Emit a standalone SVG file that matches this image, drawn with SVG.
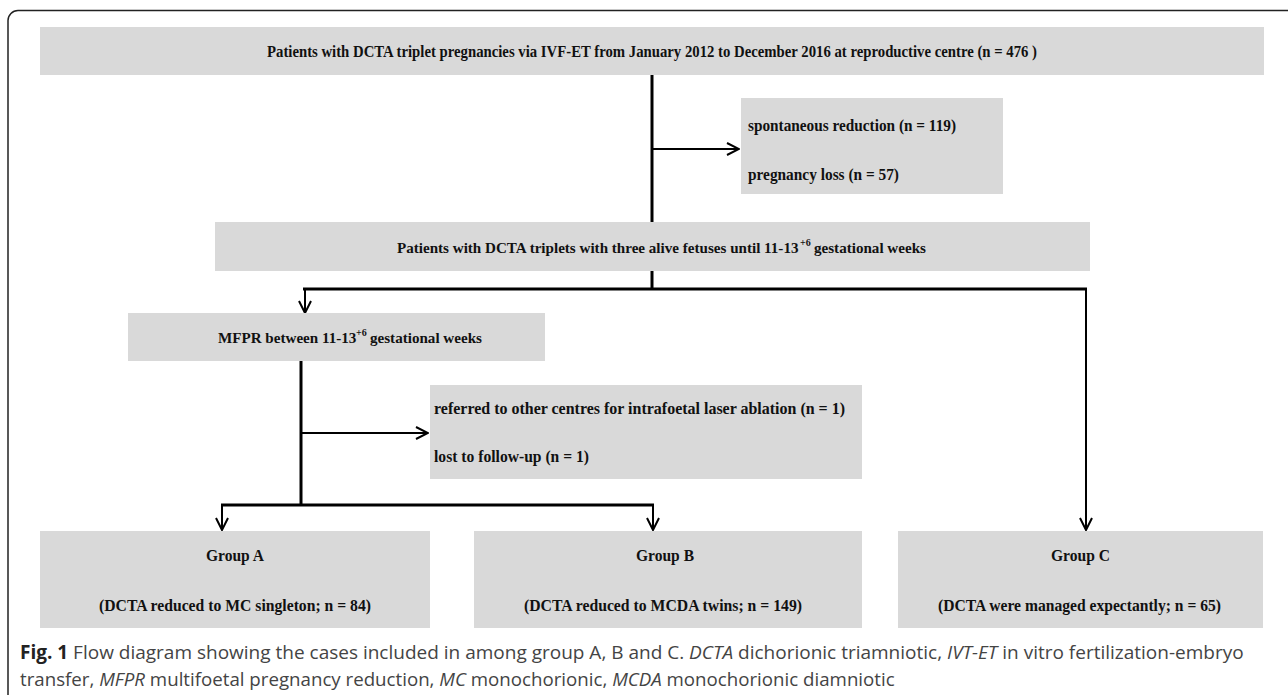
<svg xmlns="http://www.w3.org/2000/svg" width="1288" height="695" viewBox="0 0 1288 695">
<defs>
<style>
.box{fill:#d9d9d9;}
.t{font-family:"Liberation Serif","Times New Roman",serif;font-weight:bold;font-size:17px;fill:#111;}
.t2{font-family:"Liberation Serif","Times New Roman",serif;font-weight:bold;font-size:15.1px;fill:#111;}
.sup{font-family:"Liberation Serif","Times New Roman",serif;font-weight:bold;font-size:10px;fill:#111;}
.thick{stroke:#000;stroke-width:3;fill:none;}
.thin{stroke:#000;stroke-width:2;fill:none;}
.cap{font-family:"Open Sans","Liberation Sans",sans-serif;font-size:19px;fill:#444;}
.cap2{font-size:18.7px;}
.capb{font-weight:bold;fill:#222;}
</style>
<marker id="ah" markerUnits="userSpaceOnUse" markerWidth="14" markerHeight="14" viewBox="-1 -7 14 14" refX="12" refY="0" orient="auto">
<path d="M0,-6 L12,0 L0,6" fill="none" stroke="#000" stroke-width="2"/>
</marker>
</defs>
<rect x="8" y="10.5" width="1300" height="720" rx="10" fill="#fff" stroke="#222" stroke-width="1.5"/>
<g id="connectors">
<line class="thick" x1="652" y1="75" x2="652" y2="222"/>
<line class="thin" x1="652" y1="149" x2="739" y2="149" marker-end="url(#ah)"/>
<line class="thick" x1="652" y1="271" x2="652" y2="289"/>
<path class="thick" d="M303,289 H1087"/>
<line class="thin" x1="305" y1="289" x2="305" y2="313" marker-end="url(#ah)"/>
<line class="thin" x1="1086" y1="289" x2="1086" y2="530" marker-end="url(#ah)"/>
<line class="thick" x1="301" y1="361" x2="301" y2="505"/>
<line class="thin" x1="301" y1="433" x2="428" y2="433" marker-end="url(#ah)"/>
<path class="thick" d="M221,505 H654"/>
<line class="thin" x1="222" y1="505" x2="222" y2="530" marker-end="url(#ah)"/>
<line class="thin" x1="653" y1="505" x2="653" y2="530" marker-end="url(#ah)"/>
</g>
<g id="n_top">
<rect class="box" x="40" y="27" width="1224" height="48"/>
<text class="t" x="267" y="57" textLength="770" lengthAdjust="spacingAndGlyphs">Patients with DCTA triplet pregnancies via IVF-ET from January 2012 to December 2016 at reproductive centre (n = 476 )</text>
</g>
<g id="n_excl1">
<rect class="box" x="741" y="98" width="262" height="96"/>
<text class="t" x="748" y="131" textLength="208" lengthAdjust="spacingAndGlyphs">spontaneous reduction (n = 119)</text>
<text class="t" x="748" y="180" textLength="151" lengthAdjust="spacingAndGlyphs">pregnancy loss (n = 57)</text>
</g>
<g id="n_alive">
<rect class="box" x="215" y="222" width="875" height="49"/>
<text class="t2" x="397" y="253">Patients with DCTA triplets with three alive fetuses until 11-13</text>
<text class="sup" x="800" y="246">+6</text>
<text class="t2" x="814" y="253">gestational weeks</text>
</g>
<g id="n_mfpr">
<rect class="box" x="128" y="313" width="417" height="48"/>
<text class="t2" x="218" y="343">MFPR between 11-13</text>
<text class="sup" x="356" y="336">+6</text>
<text class="t2" x="370" y="343">gestational weeks</text>
</g>
<g id="n_excl2">
<rect class="box" x="430" y="385" width="432" height="94"/>
<text class="t" x="434" y="414" textLength="411" lengthAdjust="spacingAndGlyphs">referred to other centres for intrafoetal laser ablation (n = 1)</text>
<text class="t" x="434" y="462" textLength="155" lengthAdjust="spacingAndGlyphs">lost to follow-up (n = 1)</text>
</g>
<g id="n_groupA">
<rect class="box" x="40" y="531" width="390" height="97"/>
<text class="t" x="206" y="561" textLength="58" lengthAdjust="spacingAndGlyphs">Group A</text>
<text class="t" x="99" y="611" textLength="272" lengthAdjust="spacingAndGlyphs">(DCTA reduced to MC singleton; n = 84)</text>
</g>
<g id="n_groupB">
<rect class="box" x="474" y="531" width="388" height="97"/>
<text class="t" x="636" y="561" textLength="58" lengthAdjust="spacingAndGlyphs">Group B</text>
<text class="t" x="524" y="611" textLength="278" lengthAdjust="spacingAndGlyphs">(DCTA reduced to MCDA twins; n = 149)</text>
</g>
<g id="n_groupC">
<rect class="box" x="898" y="531" width="365" height="97"/>
<text class="t" x="1051" y="561" textLength="59" lengthAdjust="spacingAndGlyphs">Group C</text>
<text class="t" x="938" y="611" textLength="283" lengthAdjust="spacingAndGlyphs">(DCTA were managed expectantly; n = 65)</text>
</g>
<g id="caption">
<text class="cap" x="20" y="659"><tspan class="capb">Fig. 1</tspan> Flow diagram showing the cases included in among group A, B and C. <tspan font-style="italic">DCTA</tspan> dichorionic triamniotic, <tspan font-style="italic">IVT-ET</tspan> in vitro fertilization-embryo</text>
<text class="cap cap2" x="20" y="686">transfer, <tspan font-style="italic">MFPR</tspan> multifoetal pregnancy reduction, <tspan font-style="italic">MC</tspan> monochorionic, <tspan font-style="italic">MCDA</tspan> monochorionic diamniotic</text>
</g>
</svg>
